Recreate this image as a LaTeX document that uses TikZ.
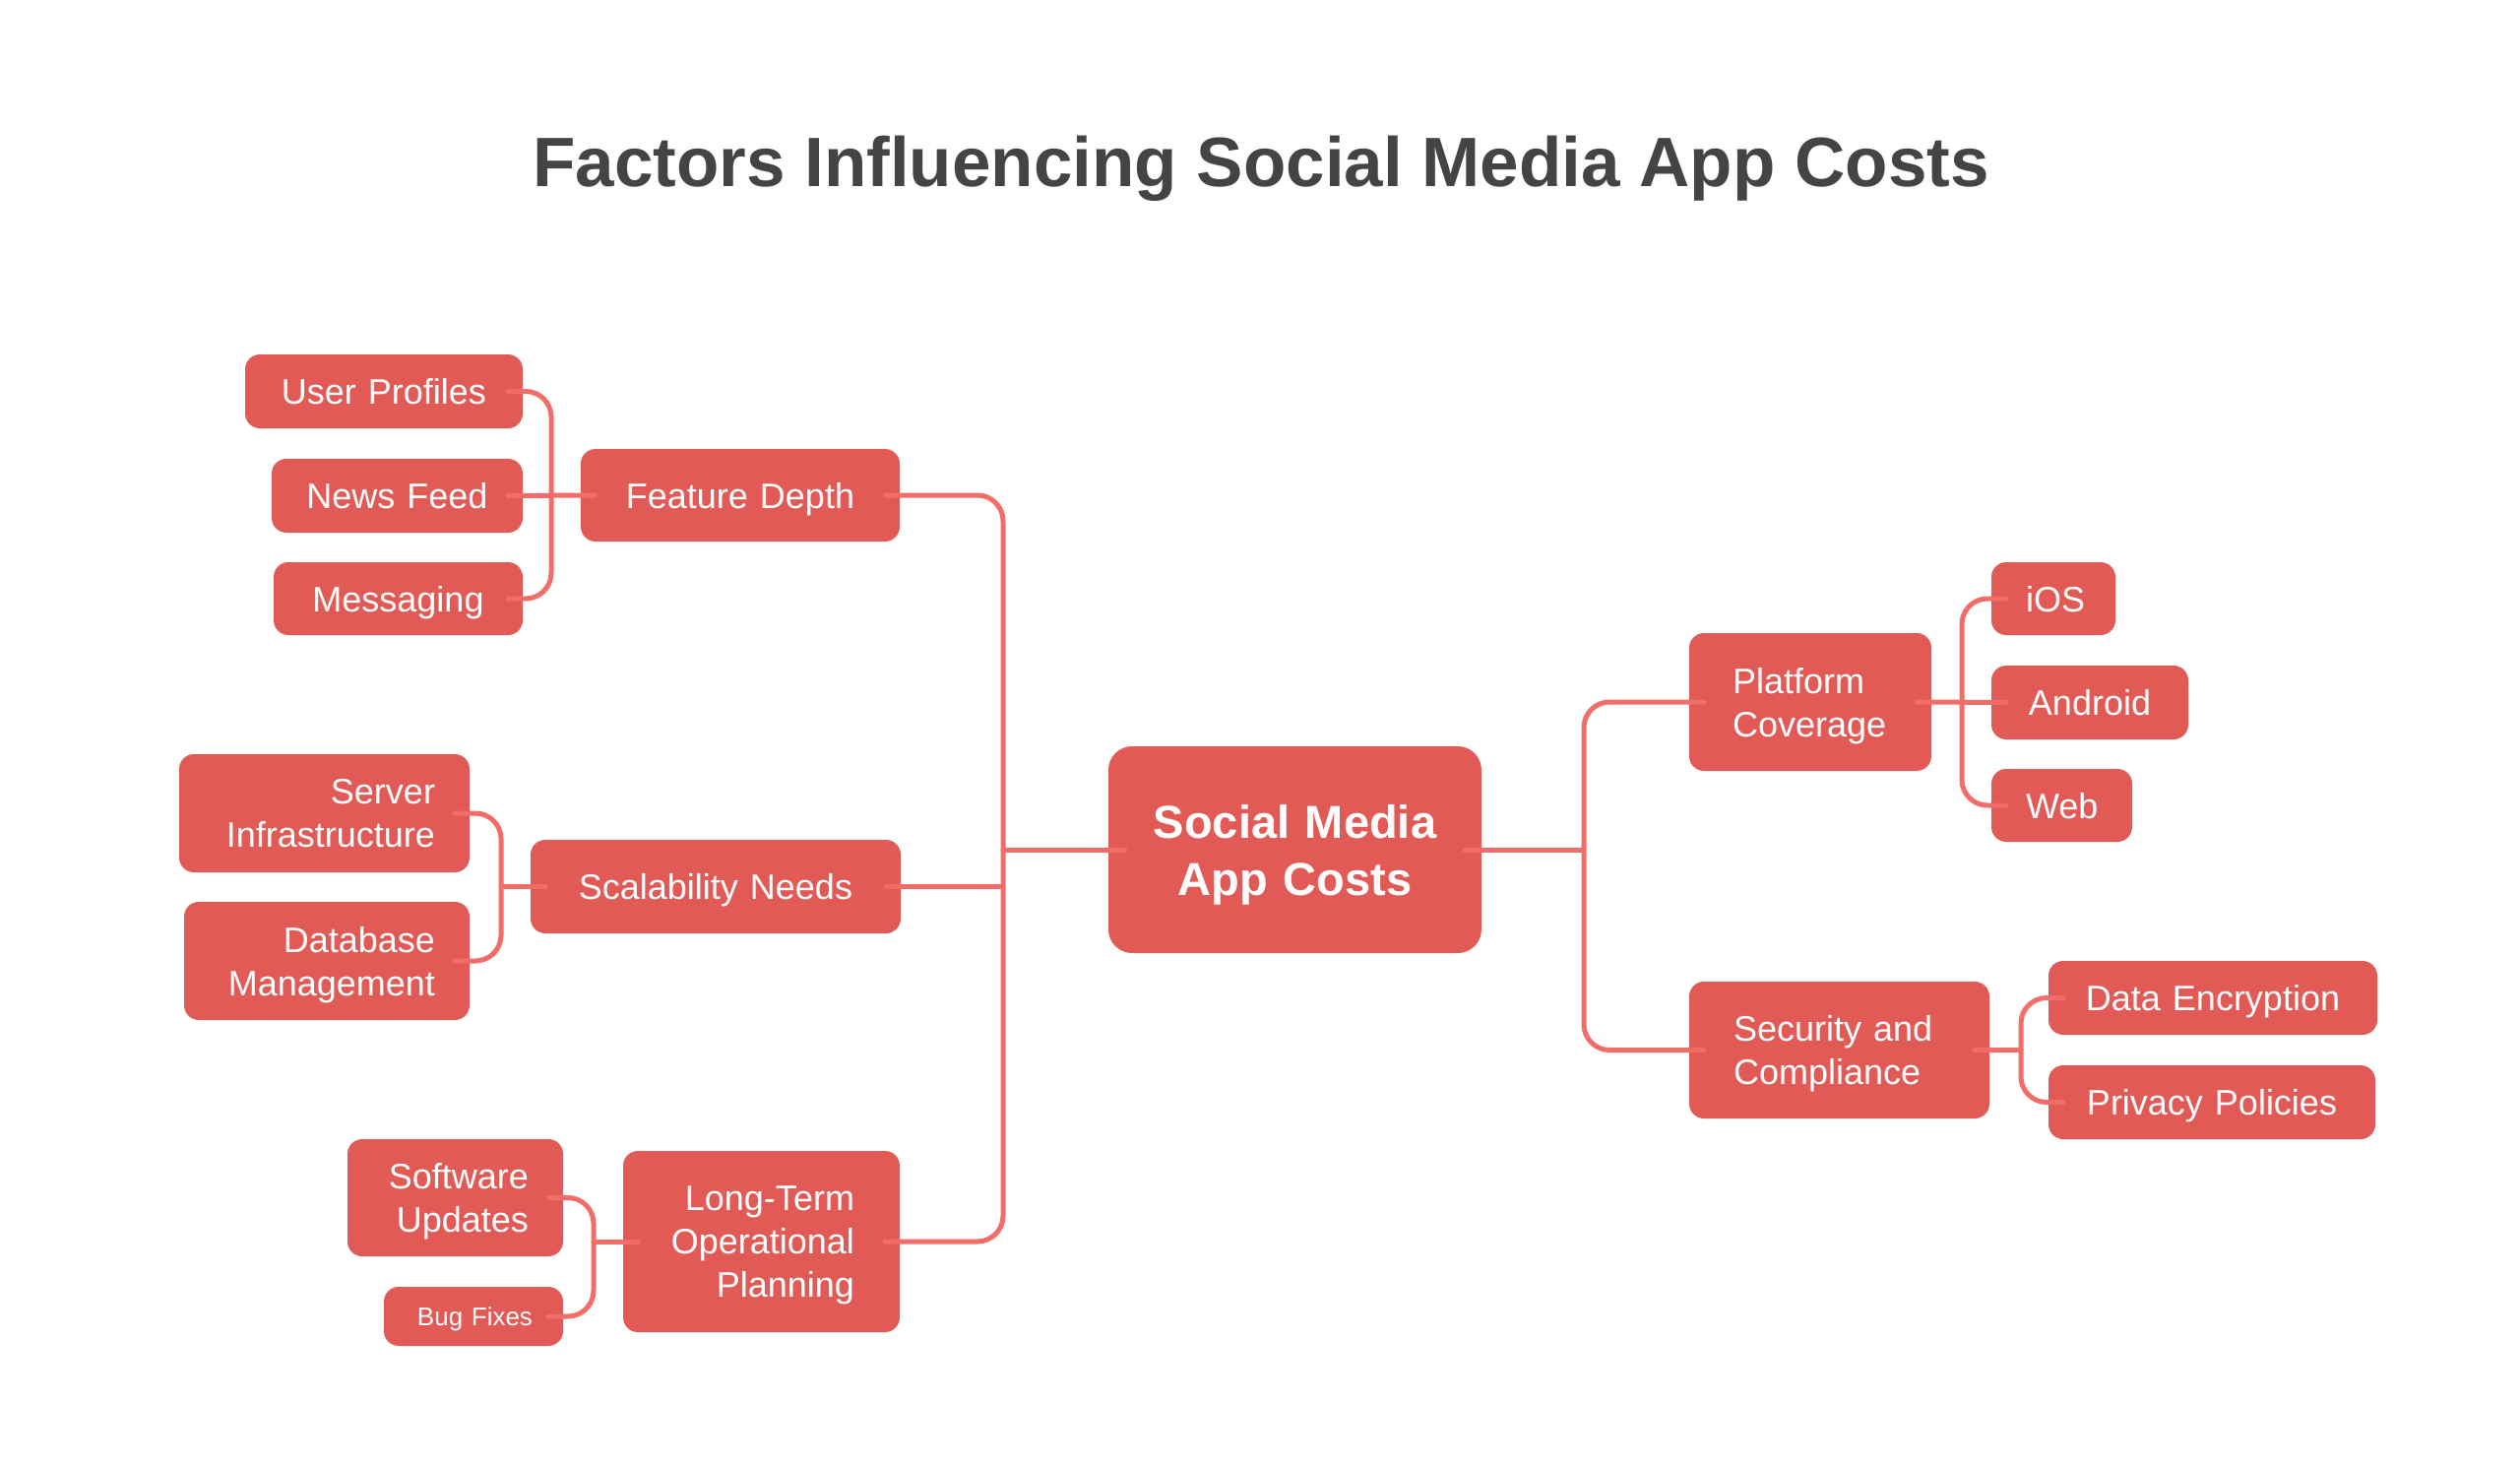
\documentclass[tikz,border=0pt]{standalone}
\usepackage{fontspec}
\setmainfont{Liberation Sans}
\definecolor{boxred}{HTML}{E25A56}
\definecolor{linered}{HTML}{F26D68}
\definecolor{titlegray}{HTML}{444444}
\tikzset{
  box/.style={fill=boxred, rounded corners=15pt, text=white, text depth=0pt,
    font=\fontsize{36}{44}\selectfont, inner xsep=35pt, inner ysep=0pt, align=center},
  twoline/.style={text depth=44pt},
  threeline/.style={text depth=88pt},
  conn/.style={draw=linered, line width=5pt, line cap=round, rounded corners=26pt},
}
\begin{document}
\begin{tikzpicture}[x=1pt,y=-1pt]
\fill[white] (0,0) rectangle (2560,1490);
\useasboundingbox (0,0) rectangle (2560,1490);

\node[text=titlegray, font=\bfseries\fontsize{71}{80}\selectfont, anchor=base] (title) at (1281,190) {Factors Influencing Social Media App Costs};

% root
\node[box, rounded corners=24pt, text width=309pt, minimum height=210pt, text depth=58pt,
      font=\bfseries\fontsize{47}{58}\selectfont] (root) at (1315.5,863) {Social Media\\App Costs};

% left branches
\node[box, text width=254pt, minimum height=94pt] (fd) at (752,503) {Feature Depth};
\node[box, text width=212pt, minimum height=75pt] (up) at (390,397.5) {User Profiles};
\node[box, text width=185pt, minimum height=75pt] (nf) at (403.5,503.5) {News Feed};
\node[box, text width=183pt, minimum height=74pt] (ms) at (404.5,608) {Messaging};

\node[box, text width=306pt, minimum height=95pt] (sn) at (727,900.5) {Scalability Needs};
\node[box, twoline, text width=225pt, minimum height=120pt, align=right] (si) at (329.5,826) {Server\\Infrastructure};
\node[box, twoline, text width=220pt, minimum height=120pt, align=right] (dm) at (332,976) {Database\\Management};

\node[box, threeline, inner xsep=46pt, text width=189pt, minimum height=184pt, align=right] (lt) at (773.5,1261) {Long-Term\\Operational\\Planning};
\node[box, twoline, text width=149pt, minimum height=119pt, align=right] (su) at (462.5,1216.5) {Software\\Updates};
\node[box, inner xsep=31pt, text width=120pt, minimum height=60pt, align=right, font=\fontsize{26}{32}\selectfont] (bf) at (481,1337) {Bug Fixes};

% right branches
\node[box, twoline, inner xsep=44pt, text width=158pt, minimum height=140pt, align=left] (pc) at (1839,713) {Platform\\Coverage};
\node[box, text width=56pt, minimum height=74pt] (ios) at (2086,608) {iOS};
\node[box, text width=130pt, minimum height=75pt] (andr) at (2123,713.5) {Android};
\node[box, text width=73pt, minimum height=74pt] (web) at (2094.5,818) {Web};

\node[box, twoline, inner xsep=45pt, text width=215pt, minimum height=139pt, align=left] (sc) at (1868.5,1066.5) {Security and\\Compliance};
\node[box, text width=264pt, minimum height=75pt] (de) at (2248,1013.5) {Data Encryption};
\node[box, text width=262pt, minimum height=75pt] (pp) at (2247,1119.5) {Privacy Policies};

% junction coordinates
\coordinate (tL) at (1019,863);
\coordinate (tR) at (1609,863);
\coordinate (vFD) at (560,503);
\coordinate (vSI) at (509,900);
\coordinate (vSU) at (603,1261);
\coordinate (vPC) at (1993,713);
\coordinate (vSC) at (2053,1066);

% main trunks
\draw[conn] ([xshift=-15pt]fd.east) -- (fd.east -| tL) -- (lt.east -| tL) -- ([xshift=-15pt]lt.east);
\draw[conn] ([xshift=-15pt]sn.east) -- (sn.east -| tL);
\draw[conn] ([xshift=17pt]root.west) -- (tL);
\draw[conn] ([xshift=15pt]pc.west) -- (pc.west -| tR) -- (sc.west -| tR) -- ([xshift=15pt]sc.west);
\draw[conn] ([xshift=-17pt]root.east) -- (tR);

% left clusters
\draw[conn] ([xshift=-15pt]up.east) -- (up.east -| vFD) -- (ms.east -| vFD) -- ([xshift=-15pt]ms.east);
\draw[conn] ([xshift=-15pt]nf.east) -- ([xshift=15pt]fd.west);
\draw[conn] ([xshift=-15pt]si.east) -- (si.east -| vSI) -- (dm.east -| vSI) -- ([xshift=-15pt]dm.east);
\draw[conn] ([xshift=15pt]sn.west) -- (sn.west -| vSI);
\draw[conn] ([xshift=-15pt]su.east) -- (su.east -| vSU) -- (bf.east -| vSU) -- ([xshift=-15pt]bf.east);
\draw[conn] ([xshift=15pt]lt.west) -- (lt.west -| vSU);

% right clusters
\draw[conn] ([xshift=15pt]ios.west) -- (ios.west -| vPC) -- (web.west -| vPC) -- ([xshift=15pt]web.west);
\draw[conn] ([xshift=-15pt]pc.east) -- ([xshift=15pt]andr.west);
\draw[conn] ([xshift=15pt]de.west) -- (de.west -| vSC) -- (pp.west -| vSC) -- ([xshift=15pt]pp.west);
\draw[conn] ([xshift=-15pt]sc.east) -- (sc.east -| vSC);
\end{tikzpicture}
\end{document}
